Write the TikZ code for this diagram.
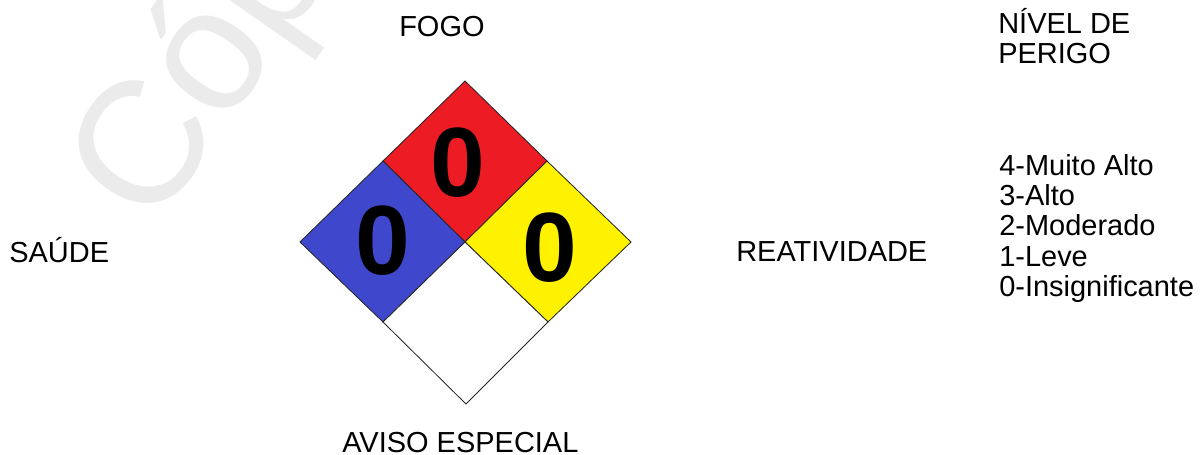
\documentclass[tikz,border=0pt]{standalone}
\usepackage{fontspec}
\setmainfont{Liberation Sans}
\definecolor{fogo}{HTML}{ED1C24}
\definecolor{saude}{HTML}{3F48CC}
\definecolor{reat}{HTML}{FFF200}
\definecolor{marca}{HTML}{EBEBEB}
\tikzset{
  rotulo/.style={anchor=base west,inner sep=0pt,font=\fontsize{20.6}{24}\selectfont},
  numero/.style={anchor=base,inner sep=0pt,font=\fontsize{70}{70}\selectfont\bfseries},
  losango/.style={draw=black!85,line width=0.6pt,line join=miter}
}
\begin{document}
\begin{tikzpicture}[x=0.025cm,y=-0.025cm]
        \useasboundingbox (0,0) rectangle (1200,454);

        % draw the watermark
        \begin{scope}
            \clip (0,0) rectangle (1200,454);
            \node[rotate=55,anchor=base west,inner sep=0pt,text=marca,
                  font=\fontsize{124}{124}\selectfont] (marca) at (152,232) {Cópia};
        \end{scope}

        % draw the corners of the diamond
        \coordinate (T)  at (465,81);
        \coordinate (L)  at (300,242);
        \coordinate (R)  at (631,242);
        \coordinate (B)  at (466,404);
        \coordinate (C)  at (465,242);
        \coordinate (TL) at (383,161);
        \coordinate (TR) at (547,161);
        \coordinate (BL) at (383,322);
        \coordinate (BR) at (548,322);

        % draw the four fields
        \filldraw[losango,fill=fogo]  (T) -- (TR) -- (C) -- (TL) -- cycle;
        \filldraw[losango,fill=saude] (TL) -- (C) -- (BL) -- (L) -- cycle;
        \filldraw[losango,fill=reat]  (TR) -- (R) -- (BR) -- (C) -- cycle;
        \filldraw[losango,fill=white] (C) -- (BR) -- (B) -- (BL) -- cycle;

        % draw the numbers
        \foreach \nome/\x/\y in {nfogo/458/196, nsaude/383/274, nreat/550/281}
            \node[numero] (\nome) at (\x,\y) {0};

        % draw the labels
        \node[rotulo] (fogo)   at (399,36)  {FOGO};
        \node[rotulo] (saude)  at (9,262)   {SAÚDE};
        \node[rotulo] (reat)   at (736,261) {REATIVIDADE};
        \node[rotulo] (aviso)  at (342,452) {AVISO ESPECIAL};
        \node[rotulo] (nivel)  at (998,33)  {NÍVEL DE};
        \node[rotulo] (perigo) at (998,63)  {PERIGO};
        \foreach \n/\y/\txt in {
            4/175/Muito Alto,
            3/205.4/Alto,
            2/235.8/Moderado,
            1/266.2/Leve,
            0/296.6/Insignificante}
                \node[rotulo] (grau\n) at (999,\y) {\n-\txt};
\end{tikzpicture}
\end{document}
